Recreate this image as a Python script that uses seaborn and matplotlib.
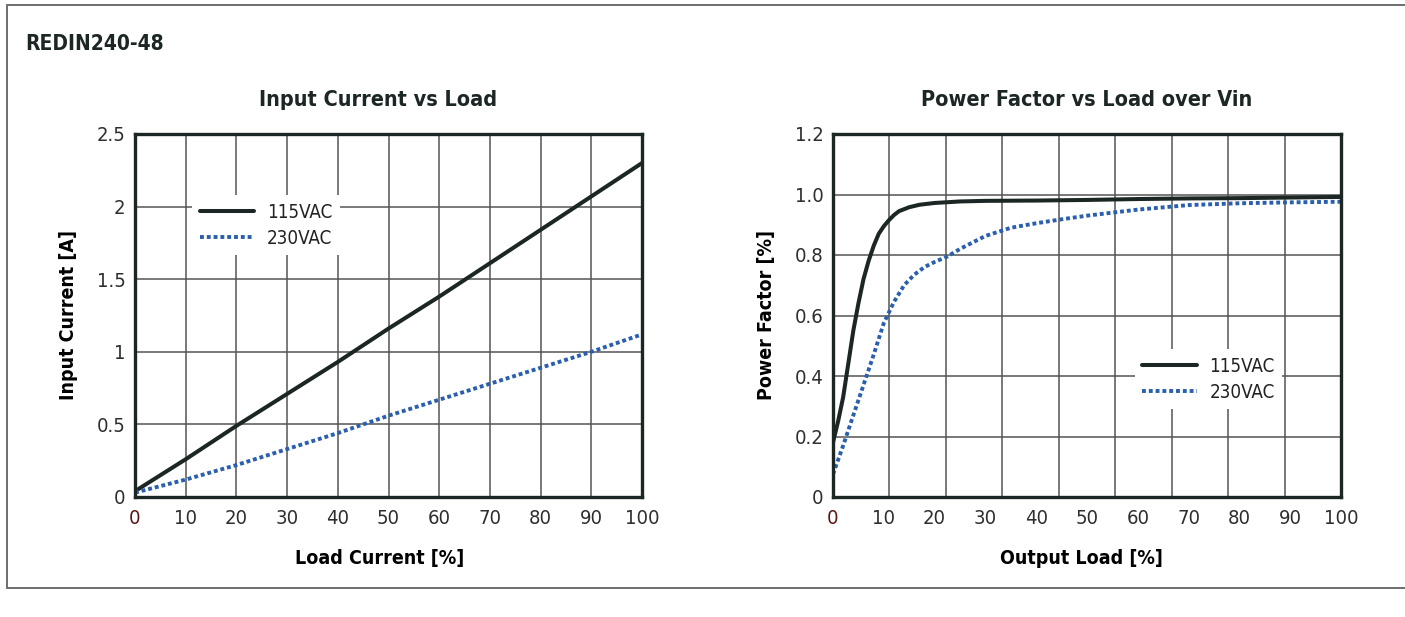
import numpy as np
import pandas as pd
import matplotlib
matplotlib.use("Agg")
import matplotlib.pyplot as plt
import seaborn as sns

# ---------------------------
# Data
# ---------------------------

ic_load = [0, 10, 20, 30, 40, 50, 60, 70, 80, 90, 100]
ic_115 = [0.04, 0.26, 0.49, 0.71, 0.93, 1.16, 1.38, 1.61, 1.84, 2.07, 2.30]
ic_230 = [0.03, 0.12, 0.22, 0.33, 0.44, 0.56, 0.67, 0.78, 0.89, 1.00, 1.12]

pf_load_115 = [0, 1, 2, 3, 4, 5, 6, 7, 8, 9, 10, 11, 12, 13, 15, 17, 20, 25, 30,
               40, 50, 60, 70, 80, 90, 100]
pf_115 = [0.18, 0.25, 0.33, 0.44, 0.55, 0.64, 0.72, 0.78, 0.83, 0.87, 0.895, 0.915,
          0.932, 0.945, 0.958, 0.966, 0.972, 0.977, 0.979, 0.980, 0.982, 0.985,
          0.987, 0.988, 0.990, 0.992]

pf_load_230 = [0, 2, 4, 6, 8, 10, 12, 14, 16, 18, 20, 22.5, 25, 30, 35, 40, 45, 50,
               60, 70, 80, 90, 100]
pf_230 = [0.075, 0.17, 0.27, 0.37, 0.47, 0.575, 0.645, 0.70, 0.735, 0.76, 0.777, 0.795,
          0.82, 0.863, 0.89, 0.905, 0.918, 0.93, 0.95, 0.965, 0.971, 0.974, 0.976]

series_names = ["115VAC", "230VAC"]

# ---------------------------
# Style
# ---------------------------

sns.set_style("white")
plt.rcParams["font.family"] = ["DejaVu Sans"]
plt.rcParams["font.stretch"] = "condensed"

dark = "#1c2725"
blue = "#2b5fae"
grid_col = "#555555"

fig = plt.figure(figsize=(14.05, 6.17), dpi=100)

ax1 = fig.add_axes([135 / 1405, 120 / 617, 507 / 1405, 363 / 617])
ax2 = fig.add_axes([833 / 1405, 120 / 617, 508 / 1405, 363 / 617])

df_ic = pd.DataFrame({"load": ic_load, "115VAC": ic_115, "230VAC": ic_230})
df_pf115 = pd.DataFrame({"load": pf_load_115, "pf": pf_115})
df_pf230 = pd.DataFrame({"load": pf_load_230, "pf": pf_230})

# ---------------------------
# Left: Input Current vs Load
# ---------------------------

sns.lineplot(data=df_ic, x="load", y="115VAC", ax=ax1, color=dark, lw=2.9,
             label=series_names[0], zorder=3)
sns.lineplot(data=df_ic, x="load", y="230VAC", ax=ax1, color=blue, lw=2.8,
             linestyle=(0, (1, 0.75)), dash_capstyle="butt",
             label=series_names[1], zorder=3)

ax1.set_xlim(0, 100)
ax1.set_ylim(0, 2.5)
ax1.set_xticks(np.arange(0, 101, 10))
ax1.set_yticks([0, 0.5, 1, 1.5, 2, 2.5])
ax1.set_yticklabels(["0", "0.5", "1", "1.5", "2", "2.5"])
ax1.grid(True, color=grid_col, lw=1.1)
ax1.set_title("Input Current vs Load", fontsize=15.5, fontweight="bold",
              color=dark, pad=20, x=0.48)
ax1.set_xlabel("Load Current [%]", fontsize=14, fontweight="bold", color="black",
               labelpad=15, x=0.483)
ax1.set_ylabel("Input Current [A]", fontsize=14, fontweight="bold", color="black",
               labelpad=13)

# ---------------------------
# Right: Power Factor vs Load
# ---------------------------

sns.lineplot(data=df_pf115, x="load", y="pf", ax=ax2, color=dark, lw=2.9,
             label=series_names[0], zorder=3)
sns.lineplot(data=df_pf230, x="load", y="pf", ax=ax2, color=blue, lw=2.8,
             linestyle=(0, (1, 0.75)), dash_capstyle="butt",
             label=series_names[1], zorder=3)

ax2.set_xlim(0, 100)
ax2.set_ylim(0, 1.2)
ax2.set_xticks(np.arange(0, 101, 10))
ax2.set_yticks(np.arange(0, 1.21, 0.2))
ax2.set_yticklabels(["0", "0.2", "0.4", "0.6", "0.8", "1.0", "1.2"])
# the datasheet grid has nine columns here, not ten
ax2.set_xticks(np.linspace(0, 100, 10), minor=True)
ax2.grid(True, axis="y", color=grid_col, lw=1.1)
ax2.grid(True, axis="x", which="minor", color=grid_col, lw=1.1)
ax2.grid(False, axis="x", which="major")
ax2.set_title("Power Factor vs Load over Vin", fontsize=15.5, fontweight="bold",
              color=dark, pad=20)
ax2.set_xlabel("Output Load [%]", fontsize=14, fontweight="bold", color="black",
               labelpad=15, x=0.49)
ax2.set_ylabel("Power Factor [%]", fontsize=14, fontweight="bold", color="black",
               labelpad=13)

# ---------------------------
# Shared axis styling
# ---------------------------

for ax in (ax1, ax2):
    for sp in ax.spines.values():
        sp.set_color(dark)
        sp.set_linewidth(2.4)
        sp.set_zorder(4)
    ax.tick_params(axis="both", which="both", length=0, labelsize=14.5,
                   labelcolor="#2e2e2e")
    ax.tick_params(axis="x", pad=9)
    ax.tick_params(axis="y", pad=7)
    ax.get_xticklabels()[0].set_color("#5a1414")
    ax.set_axisbelow(True)

leg_kw = dict(loc="upper left", frameon=True, fontsize=13.5, handlelength=2.9,
              handletextpad=0.68, borderpad=0.4, labelspacing=0.38)
leg1 = ax1.legend(bbox_to_anchor=(0.094, 0.857), **leg_kw)
leg2 = ax2.legend(bbox_to_anchor=(0.576, 0.433), **leg_kw)
for leg in (leg1, leg2):
    leg.get_frame().set_facecolor("white")
    leg.get_frame().set_edgecolor("none")
    leg.get_frame().set_alpha(1)
    leg.get_frame().set_boxstyle("square", pad=0)
    for t in leg.get_texts():
        t.set_color("#222222")

# ---------------------------
# Figure header and frame
# ---------------------------

fig.text(25 / 1405, 1 - 50 / 617, "REDIN240-48", fontsize=15, fontweight="bold",
         color=dark, va="baseline", ha="left")

frame_col = "#6e6e6e"
fig.add_artist(plt.Line2D([7 / 1405, 7 / 1405], [1 - 5 / 617, 1 - 588 / 617],
                          color=frame_col, lw=1.4, transform=fig.transFigure))
fig.add_artist(plt.Line2D([7 / 1405, 1], [1 - 5 / 617, 1 - 5 / 617],
                          color=frame_col, lw=1.4, transform=fig.transFigure))
fig.add_artist(plt.Line2D([7 / 1405, 1], [1 - 588 / 617, 1 - 588 / 617],
                          color=frame_col, lw=1.4, transform=fig.transFigure))

fig.savefig("out.png", dpi=100)
plt.close(fig)
